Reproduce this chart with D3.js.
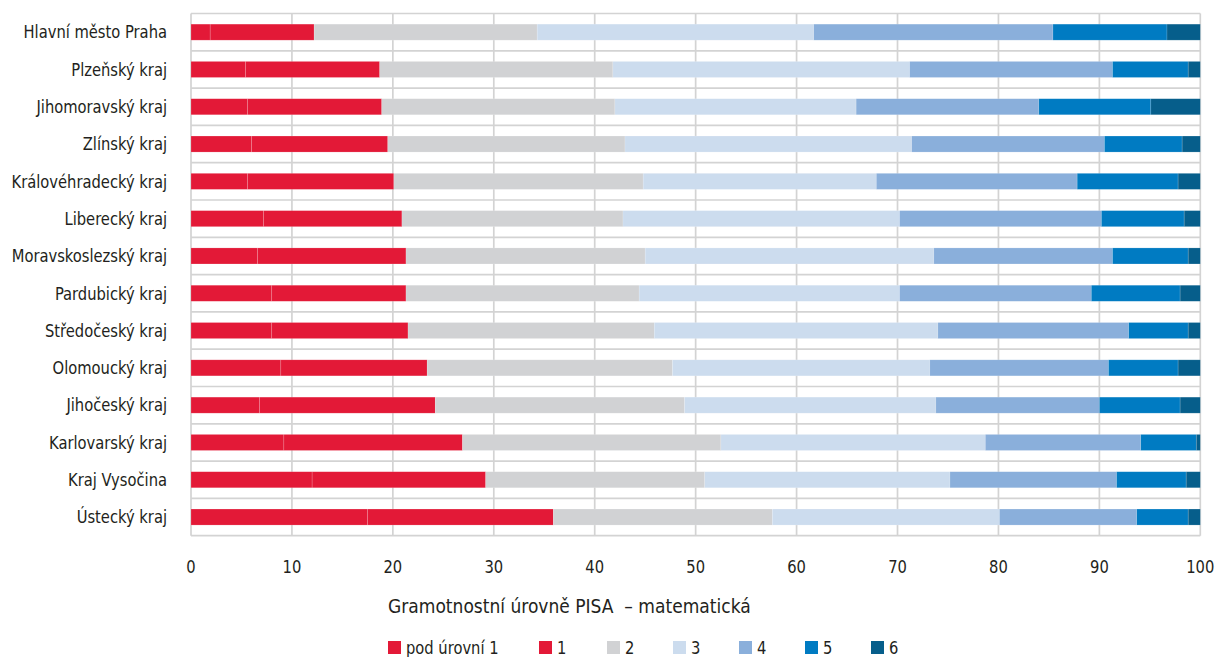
<!DOCTYPE html>
<html>
<head>
<meta charset="utf-8">
<script src="https://cdn.jsdelivr.net/npm/d3@7"></script>
<style>
  body { margin: 0; background: #fff; }
  svg text { font-family: "Liberation Sans Narrow", "DejaVu Sans Condensed", "Roboto", sans-serif; fill: #231f20; }
</style>
</head>
<body>
<svg id="chart" width="1217" height="657"></svg>
<script>
// Regions, top to bottom
const regions = [
    "Hlavní město Praha", "Plzeňský kraj", "Jihomoravský kraj", "Zlínský kraj",
    "Královéhradecký kraj", "Liberecký kraj", "Moravskoslezský kraj", "Pardubický kraj",
    "Středočeský kraj", "Olomoucký kraj", "Jihočeský kraj", "Karlovarský kraj",
    "Kraj Vysočina", "Ústecký kraj"
];

const levels = ["pod úrovní 1", "1", "2", "3", "4", "5", "6"];
const levelColors = ["#e31937", "#e31937", "#d1d2d4", "#ccdcee", "#8aafdb", "#007bc2", "#065e8b"];

// share of pupils (%) per level, same order as regions
const podUrovni1 = [1.9, 5.4, 5.6, 6.0, 5.6, 7.2, 6.6, 8.0, 8.0, 8.9, 6.8, 9.2, 12.0, 17.5];
const uroven1 = [10.3, 13.3, 13.3, 13.5, 14.5, 13.7, 14.7, 13.3, 13.5, 14.5, 17.4, 17.7, 17.2, 18.4];
const uroven2 = [22.1, 23.1, 23.1, 23.5, 24.7, 21.9, 23.7, 23.1, 24.4, 24.3, 24.7, 25.6, 21.7, 21.7];
const uroven3 = [27.4, 29.4, 23.9, 28.4, 23.1, 27.4, 28.6, 25.8, 28.1, 25.5, 24.9, 26.2, 24.3, 22.5];
const uroven4 = [23.7, 20.1, 18.1, 19.1, 19.9, 20.0, 17.7, 19.0, 18.9, 17.7, 16.2, 15.4, 16.5, 13.6];
const uroven5 = [11.3, 7.5, 11.1, 7.7, 10.0, 8.2, 7.5, 8.8, 5.9, 6.9, 8.0, 5.5, 6.9, 5.1];
const uroven6 = [3.3, 1.2, 4.9, 1.8, 2.2, 1.6, 1.2, 2.0, 1.2, 2.2, 2.0, 0.4, 1.4, 1.2];

const xTicks = [0, 10, 20, 30, 40, 50, 60, 70, 80, 90, 100];
const axisTitle = "Gramotnostní úrovně PISA  – matematická";

const series = [podUrovni1, uroven1, uroven2, uroven3, uroven4, uroven5, uroven6];
const rows = regions.map((name, i) => {
    const row = { name };
    levels.forEach((lv, j) => { row[lv] = series[j][i]; });
    return row;
});

const svg = d3.select("#chart");
const plot = { left: 191, right: 1200.3, top: 13.5, bottom: 535.7 };
const squeeze = 0.91; // the original uses a condensed face

const x = d3.scaleLinear().domain([0, 100]).range([plot.left, plot.right]);
const y = d3.scaleBand().domain(regions).range([plot.top, plot.bottom])
    .paddingInner(0.57).paddingOuter(0.285);

const color = d3.scaleOrdinal().domain(levels).range(levelColors);

// grid
const grid = svg.append("g").attr("stroke", "#d3d3d3").attr("stroke-width", 1.7);
grid.selectAll(".vline")
    .data(xTicks)
    .join("line")
    .attr("x1", d => x(d)).attr("x2", d => x(d))
    .attr("y1", plot.top).attr("y2", plot.bottom);

const step = y.step();
const bounds = d3.range(regions.length + 1).map(i => plot.top + i * step);
grid.selectAll(".hline")
    .data(bounds)
    .join("line")
    .attr("x1", plot.left).attr("x2", plot.right)
    .attr("y1", d => d).attr("y2", d => d);

// bars
const stacked = d3.stack().keys(levels)(rows);
svg.append("g")
    .selectAll("g")
    .data(stacked)
    .join("g")
    .attr("fill", d => color(d.key))
    .selectAll("rect")
    .data(d => d)
    .join("rect")
    .attr("x", d => x(d[0]))
    .attr("y", d => y(d.data.name))
    .attr("width", d => Math.max(0, x(d[1]) - x(d[0])))
    .attr("height", y.bandwidth())
    .attr("stroke", "#fff")
    .attr("stroke-opacity", 0.25)
    .attr("stroke-width", 0.6);

// y labels
svg.append("g")
    .selectAll("text")
    .data(regions)
    .join("text")
    .attr("transform", d => `translate(167,${y(d) + y.bandwidth() / 2}) scale(${squeeze},1)`)
    .attr("dy", "0.35em")
    .attr("text-anchor", "end")
    .attr("font-size", 18)
    .text(d => d);

// x tick labels
svg.append("g")
    .selectAll("text")
    .data(xTicks)
    .join("text")
    .attr("transform", d => `translate(${x(d)},573) scale(${squeeze},1)`)
    .attr("text-anchor", "middle")
    .attr("font-size", 18)
    .text(d => d);

svg.append("text")
    .attr("x", 388)
    .attr("y", 613)
    .attr("font-size", 19)
    .style("white-space", "pre")
    .text(axisTitle);

// legend
const legendX = [388, 539, 607, 673, 739, 805, 871];
const legend = svg.append("g")
    .selectAll("g")
    .data(levels)
    .join("g")
    .attr("transform", (d, i) => `translate(${legendX[i]},641)`);
legend.append("rect")
    .attr("width", 13).attr("height", 13)
    .attr("fill", d => color(d));
legend.append("text")
    .attr("transform", `translate(18,13) scale(${squeeze},1)`)
    .attr("font-size", 18)
    .text(d => d);
</script>
</body>
</html>
